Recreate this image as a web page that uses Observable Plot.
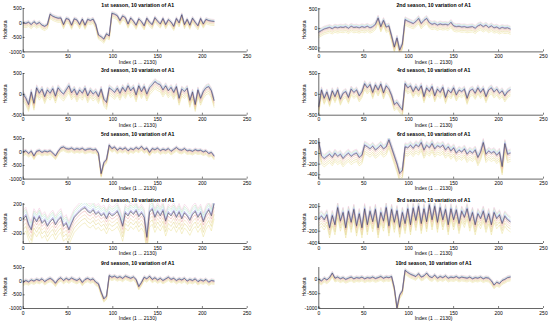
<!DOCTYPE html>
<html><head><meta charset="utf-8">
<script src="https://cdn.jsdelivr.net/npm/d3@7"></script>
<script src="https://cdn.jsdelivr.net/npm/@observablehq/plot@0.6"></script>
<style>
body{margin:0;background:#fff;}
#fig{position:relative;width:550px;height:325px;font-family:"Liberation Sans",Arial,sans-serif;overflow:hidden;background:#fff}
.panel{position:absolute}
.title{position:absolute;font-size:5.2px;font-weight:bold;white-space:nowrap;transform:translate(-50%,-50%);color:#000}
.xl{position:absolute;font-size:5px;white-space:nowrap;transform:translate(-50%,-50%);color:#000}
.yl{position:absolute;font-size:5px;white-space:nowrap;transform:translate(-50%,-50%) rotate(-90deg);color:#000}
</style></head><body><div id="fig"></div>
<script>
// ---- data (one sample every 3 index units, 0..213) ----
const sampleIndex = d3.range(0, 214, 3);
const xTicks = [0, 50, 100, 150, 200, 250];
const titles = ["1st season, 10 variation of A1","2nd season, 10 variation of A1","3rd season, 10 variation of A1","4rd season, 10 variation of A1","5rd season, 10 variation of A1","6rd season, 10 variation of A1","7rd season, 10 variation of A1","8rd season, 10 variation of A1","9rd season, 10 variation of A1","10rd season, 10 variation of A1"];
const xLabel = "Index (1 ... 2130)";
const yLabel = "Hodnota";

const p1 = [0,-20,20,-60,40,-40,10,-80,-120,-60,300,230,190,160,170,-60,150,120,-80,140,100,-60,130,-80,120,80,130,-60,-420,-480,-560,-380,-450,330,300,250,80,240,180,-40,170,60,-80,140,40,-100,160,20,-60,180,60,-40,150,-60,110,30,-120,150,0,280,-60,120,-80,160,20,-100,150,-40,120,80,60,50];
const p2 = [-100,-60,-20,0,20,-10,30,10,30,20,40,0,50,20,30,10,40,20,50,10,40,100,260,40,200,30,60,-200,-480,-250,-560,-400,220,180,150,120,170,250,120,200,250,140,100,120,80,110,90,100,80,150,60,40,50,30,40,20,30,40,0,60,90,40,80,20,60,10,30,-10,20,0,10,-20];
const p3 = [0,-100,-250,50,-220,150,20,120,-60,100,20,130,-50,150,60,0,100,200,30,120,-20,100,20,140,-40,90,0,60,-60,120,-120,-200,150,100,40,140,20,160,60,200,80,160,-20,200,60,180,0,150,220,300,250,220,100,200,80,160,40,180,-100,120,60,140,-150,50,-250,100,-100,60,150,180,80,-150];
const p4 = [-300,100,-100,50,-150,80,-60,100,-120,20,60,-80,120,40,100,-40,60,250,150,230,40,220,100,240,30,200,120,-30,-250,-200,-300,-380,250,150,200,60,180,80,200,-60,150,60,180,-40,120,40,160,-80,100,30,150,-20,100,60,120,-100,80,120,20,150,40,130,-60,100,150,50,120,20,80,-40,60,100];
const p5 = [0,40,-60,30,-150,20,50,-20,30,0,40,-40,-150,20,150,180,120,100,140,80,120,90,130,60,100,110,70,100,-50,-800,-400,-280,250,120,180,60,140,90,150,40,120,80,160,100,200,80,140,-20,120,80,140,40,100,60,120,20,90,160,80,60,120,40,60,20,80,40,60,0,40,-60,-20,-150];
const p6 = [200,-50,-100,-60,-20,-80,0,-60,-20,-100,-40,0,-60,-20,0,-80,-40,150,120,80,130,60,100,150,80,120,250,100,-50,-200,-380,-320,120,100,150,90,160,120,200,60,150,100,180,80,140,110,150,60,120,40,100,0,60,20,80,-20,40,0,60,-80,20,200,-20,40,0,30,-40,20,-250,180,-20,0];
const p7 = [0,40,-80,-150,20,-40,30,-60,-20,-100,-40,0,-80,-20,20,-100,-60,-150,-60,20,60,100,130,150,100,80,120,60,90,40,70,0,80,40,60,100,20,-100,80,40,100,60,110,30,80,20,-250,90,130,20,100,40,110,-30,80,40,100,20,90,0,80,40,-20,60,100,20,80,-40,60,120,40,200];
const p8 = [0,40,-20,60,-150,50,-100,180,-40,100,-150,120,-60,150,-120,80,-150,160,-100,120,-50,150,-150,100,-40,180,-120,150,-60,130,-140,100,-80,160,-100,170,-30,200,-80,160,-50,220,-20,200,-60,180,-20,150,-100,160,-20,140,-80,120,20,160,-40,100,-100,80,0,120,-60,80,-100,100,0,60,-80,40,-20,-50];
const p9 = [-50,20,-30,40,0,60,20,80,-20,50,100,40,-80,60,120,20,100,40,110,60,20,90,-50,60,100,40,80,-40,-100,-400,-650,-550,200,140,180,120,160,100,180,140,100,150,60,-200,-50,140,80,180,60,120,40,100,20,80,140,60,100,20,80,40,100,0,60,20,80,-20,40,0,60,-40,20,0];
const p10 = [0,-60,40,-20,60,220,40,80,20,60,0,40,80,20,60,40,80,20,60,40,80,30,60,100,40,80,60,100,-300,-1000,-550,-400,320,240,180,140,100,200,80,120,220,100,60,150,40,100,60,120,40,80,60,100,40,80,60,40,80,20,60,40,80,20,60,40,-50,-200,-100,-150,-40,0,60,80];

// the 10 variations: colours and their offset from the base line, per panel
const variationNames = ["var 1","var 2","var 3","var 4","var 5","var 6","var 7","var 8","var 9","var 10"];
const variationColors = ["#e8de8c","#ddd07a","#f0d0a0","#b4e0b4","#f2c0dc","#b8e4ea","#e89a9a","#8f8fdc","#7c6cc0","#3c3c32"];
const off1 = [-140,-90,-60,50,70,30,-30,15,5,0];
const off2 = [-130,-90,-60,60,80,40,-30,20,10,0];
const off3 = [-160,-110,-70,60,80,40,-40,20,10,0];
const off4 = [-140,-100,-60,60,80,40,-30,20,10,0];
const off5 = [-130,-90,-60,50,70,30,-30,20,10,0];
const off6 = [-150,-110,-70,60,80,40,-30,20,10,0];
const off7 = [-200,-140,-90,90,120,60,-40,25,10,0];
const off8 = [-160,-110,-70,70,90,40,-30,20,10,0];
const off9 = [-120,-80,-50,50,70,30,-30,15,5,0];
const off10 = [-130,-90,-60,50,70,30,-30,15,5,0];

const yDomains = [[-1000,500],[-600,510],[-500,500],[-500,500],[-1000,500],[-480,280],[-330,210],[-400,250],[-1000,500],[-1020,420]];
const yTicks = [[-1000,-500,0,500],[-500,0,500],[-500,0,500],[-500,0,500],[-1000,-500,0,500],[-400,-200,0,200],[-200,0,200],[-400,-200,0,200],[-1000,-500,0,500],[-1000,-500,0]];

const bases = [p1,p2,p3,p4,p5,p6,p7,p8,p9,p10];
const offsets = [off1,off2,off3,off4,off5,off6,off7,off8,off9,off10];

// ---- layout ----
const cols = [{x0: 0, mL: 22.7, mR: 28.3, ylx: 5}, {x0: 275, mL: 43.3, mR: 7, ylx: 304}];
const rowTop = [8.3, 73.3, 137.7, 203.3, 266.7];
const rowBottom = [51.7, 115, 178.3, 243.3, 307.7];
const fig = document.getElementById("fig");

bases.forEach((base, k) => {
  const col = cols[k % 2], row = Math.floor(k / 2);
  const svgTop = rowTop[row] - 8;
  const H = 65;
  const mT = 8, mB = H - 8 - (rowBottom[row] - rowTop[row]);
  const data = [];
  offsets[k].forEach((o, j) => {
    base.forEach((v, i) => data.push({x: sampleIndex[i], y: v + o, s: variationNames[j]}));
  });
  const yd = yDomains[k];
  const chart = Plot.plot({
    width: 275, height: H,
    marginLeft: col.mL, marginRight: col.mR, marginTop: mT, marginBottom: mB,
    style: {background: "transparent", fontFamily: "Liberation Sans, Arial, sans-serif", fontSize: "5px", overflow: "visible"},
    x: {domain: [0, 250], axis: null},
    y: {domain: yd, axis: null},
    color: {domain: variationNames, range: variationColors},
    marks: [
      Plot.line(data, {x: "x", y: "y", z: "s", stroke: "s", strokeWidth: 0.45, clip: true}),
      Plot.ruleY([yd[0]], {stroke: "#000", strokeWidth: 0.6}),
      Plot.ruleX([0], {stroke: "#000", strokeWidth: 0.6}),
      Plot.axisX(xTicks, {tickSize: -2, tickPadding: 4.5, fontSize: 5, label: null, tickFormat: d => String(d), strokeWidth: 0.5}),
      Plot.axisY(yTicks[k], {tickSize: -2, tickPadding: 3.5, fontSize: 5, label: null, tickFormat: d => String(d), strokeWidth: 0.5})
    ]
  });
  chart.classList.add("panel");
  chart.style.left = col.x0 + "px";
  chart.style.top = svgTop + "px";
  fig.appendChild(chart);

  const cx = col.x0 + col.mL + (275 - col.mL - col.mR) / 2 + 3;
  const t = document.createElement("div");
  t.className = "title"; t.textContent = titles[k];
  t.style.left = cx + "px"; t.style.top = (rowTop[row] - 3.6) + "px";
  fig.appendChild(t);
  const xl = document.createElement("div");
  xl.className = "xl"; xl.textContent = xLabel;
  xl.style.left = cx + "px"; xl.style.top = (rowBottom[row] + 10) + "px";
  fig.appendChild(xl);
  const yl = document.createElement("div");
  yl.className = "yl"; yl.textContent = yLabel;
  yl.style.left = col.ylx + "px"; yl.style.top = ((rowTop[row] + rowBottom[row]) / 2) + "px";
  fig.appendChild(yl);
});
</script></body></html>
